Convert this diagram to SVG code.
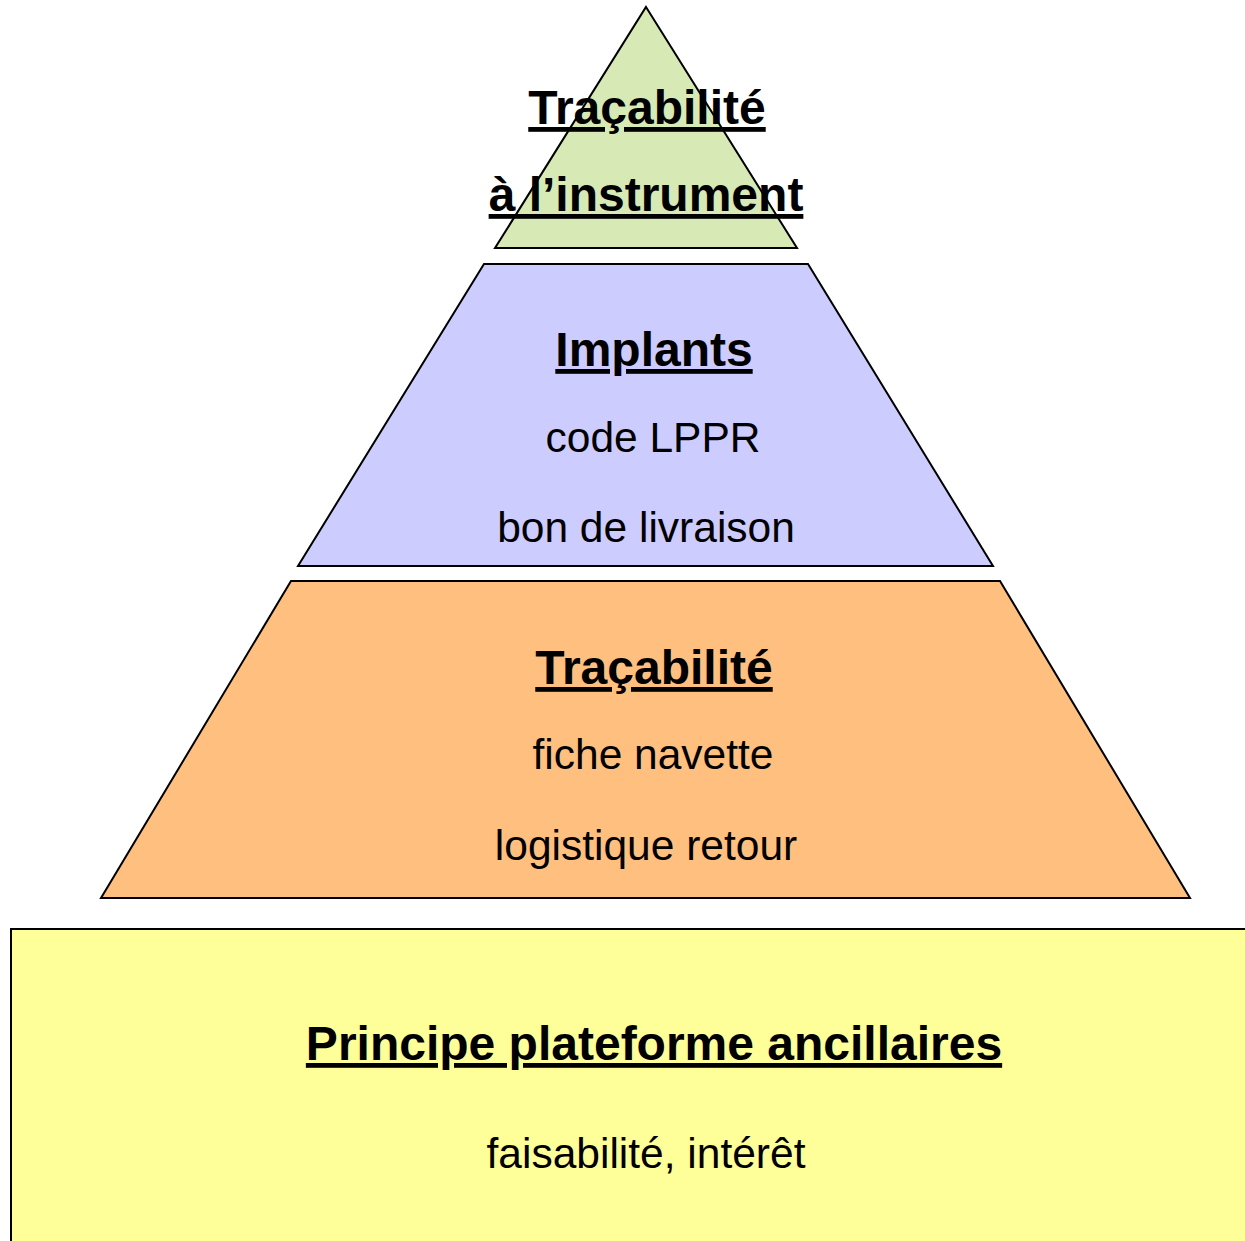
<svg xmlns="http://www.w3.org/2000/svg" width="1245" height="1241" viewBox="0 0 1245 1241">
<style>
.shape{stroke:#000;stroke-width:2;stroke-linejoin:miter}
.t{font-family:"Liberation Sans",Arial,sans-serif;fill:#000;text-anchor:middle}
.h{font-size:48px;font-weight:bold;text-decoration:underline;text-decoration-thickness:4px}
.b{font-size:42.5px}
</style>
<rect width="1245" height="1241" fill="#fff"/>
<g id="base">
<rect class="shape" x="11" y="929" width="1260" height="400" fill="#FFFF99"/>
<text class="t h" x="654" y="1060">Principe plateforme ancillaires</text>
<text class="t b" x="646" y="1168">faisabilité, intérêt</text>
</g>
<g id="level-tracabilite">
<polygon class="shape" points="291,581 1000,581 1190,898 101,898" fill="#FFBF7F"/>
<text class="t h" x="654" y="684">Traçabilité</text>
<text class="t b" x="653" y="769">fiche navette</text>
<text class="t b" x="646" y="860">logistique retour</text>
</g>
<g id="level-implants">
<polygon class="shape" points="484,264 808,264 993,566 298,566" fill="#CCCCFF"/>
<text class="t h" x="654" y="366">Implants</text>
<text class="t b" x="653" y="452">code LPPR</text>
<text class="t b" x="646" y="542">bon de livraison</text>
</g>
<g id="level-instrument">
<polygon class="shape" points="646,7 797,248 495,248" fill="#D7E9B5"/>
<text class="t h" x="647" y="124">Traçabilité</text>
<text class="t h" x="646" y="211">à l’instrument</text>
</g>
<g id="connectors"/>
</svg>
